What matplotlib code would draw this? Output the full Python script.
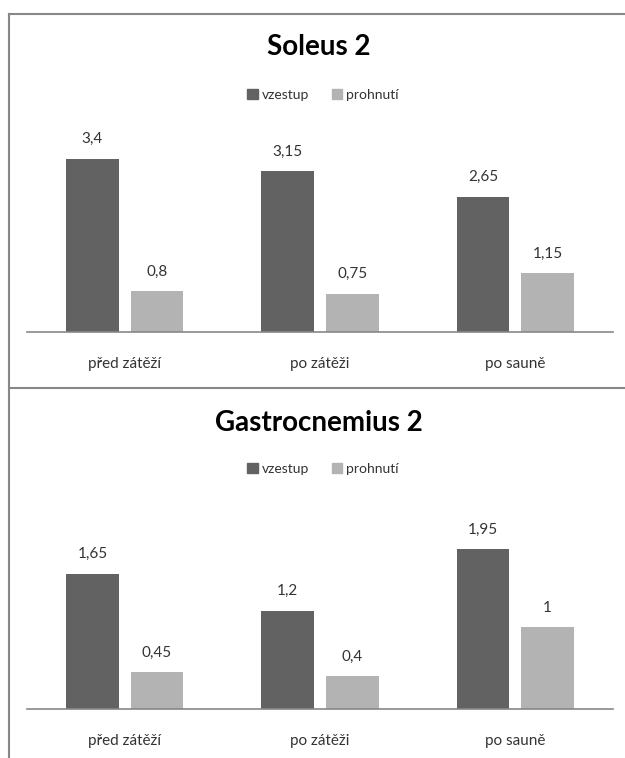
import matplotlib
matplotlib.use("Agg")
import matplotlib.pyplot as plt
from matplotlib.patches import Patch
from matplotlib.lines import Line2D
import numpy as np

plt.rcParams['font.family'] = ['Lato', 'DejaVu Sans']

categories = ["před zátěží", "po zátěži", "po sauně"]
series_names = ["vzestup", "prohnutí"]

soleus_vzestup = [3.4, 3.15, 2.65]
soleus_prohnuti = [0.8, 0.75, 1.15]
soleus_labels_v = ["3,4", "3,15", "2,65"]
soleus_labels_p = ["0,8", "0,75", "1,15"]

gastro_vzestup = [1.65, 1.2, 1.95]
gastro_prohnuti = [0.45, 0.4, 1.0]
gastro_labels_v = ["1,65", "1,2", "1,95"]
gastro_labels_p = ["0,45", "0,4", "1"]

DARK = "#626262"
LIGHT = "#b3b3b3"
AXIS = "#878787"
TEXT = "#333333"
W, H = 625, 758

fig = plt.figure(figsize=(W / 100, H / 100), dpi=100)


def px_axes(left, right, base, top):
    return fig.add_axes([left / W, (H - base) / H, (right - left) / W, (base - top) / H])


def panel(ax, title, title_y, legend_y, vz, pr, lab_v, lab_p, ymax):
    x = np.arange(len(categories))
    off, bw = 0.165, 0.27
    ax.bar(x - off, vz, bw, color=DARK, label=series_names[0])
    ax.bar(x + off, pr, bw, color=LIGHT, label=series_names[1])
    for xi, v, t in zip(x, vz, lab_v):
        ax.annotate(t, (xi - off, v), xytext=(0, 9), textcoords="offset points",
                    ha="center", va="bottom", fontsize=11, color=TEXT)
    for xi, v, t in zip(x, pr, lab_p):
        ax.annotate(t, (xi + off, v), xytext=(0, 9), textcoords="offset points",
                    ha="center", va="bottom", fontsize=11, color=TEXT)
    ax.set_xlim(-0.5, len(categories) - 0.5)
    ax.set_ylim(0, ymax)
    ax.set_xticks(x)
    ax.set_xticklabels(categories, fontsize=11, color=TEXT)
    ax.tick_params(axis="x", length=0, pad=18)
    ax.set_yticks([])
    for s in ("top", "right", "left"):
        ax.spines[s].set_visible(False)
    ax.spines["bottom"].set_color(AXIS)
    ax.spines["bottom"].set_linewidth(1.2)
    ax.patch.set_alpha(0)
    fig.text(319 / W, 1 - title_y / H, title, ha="center", va="center",
             fontsize=20, fontweight="bold", color="black")
    handles = [Patch(color=DARK), Patch(color=LIGHT)]
    fig.legend(handles, series_names, loc="center", bbox_to_anchor=(323 / W, 1 - legend_y / H),
               ncol=2, frameon=False, fontsize=10, handlelength=0.75, handleheight=0.75,
               handletextpad=0.3, columnspacing=1.6, labelcolor=TEXT)


ax1 = px_axes(27, 613, 332, 128)
panel(ax1, "Soleus 2", 47, 95, soleus_vzestup, soleus_prohnuti,
      soleus_labels_v, soleus_labels_p, 4.0)

ax2 = px_axes(27, 613, 709, 504)
panel(ax2, "Gastrocnemius 2", 423, 469, gastro_vzestup, gastro_prohnuti,
      gastro_labels_v, gastro_labels_p, 2.5)

# panel frames
def fig_line(xs, ys):
    fig.add_artist(Line2D([v / W for v in xs], [1 - v / H for v in ys],
                          color=AXIS, linewidth=1.5, transform=fig.transFigure))

fig_line([9, 9], [14, H])
fig_line([9, W], [14, 14])
fig_line([9, W], [388, 388])

fig.savefig("out.png", dpi=100, facecolor="white")
